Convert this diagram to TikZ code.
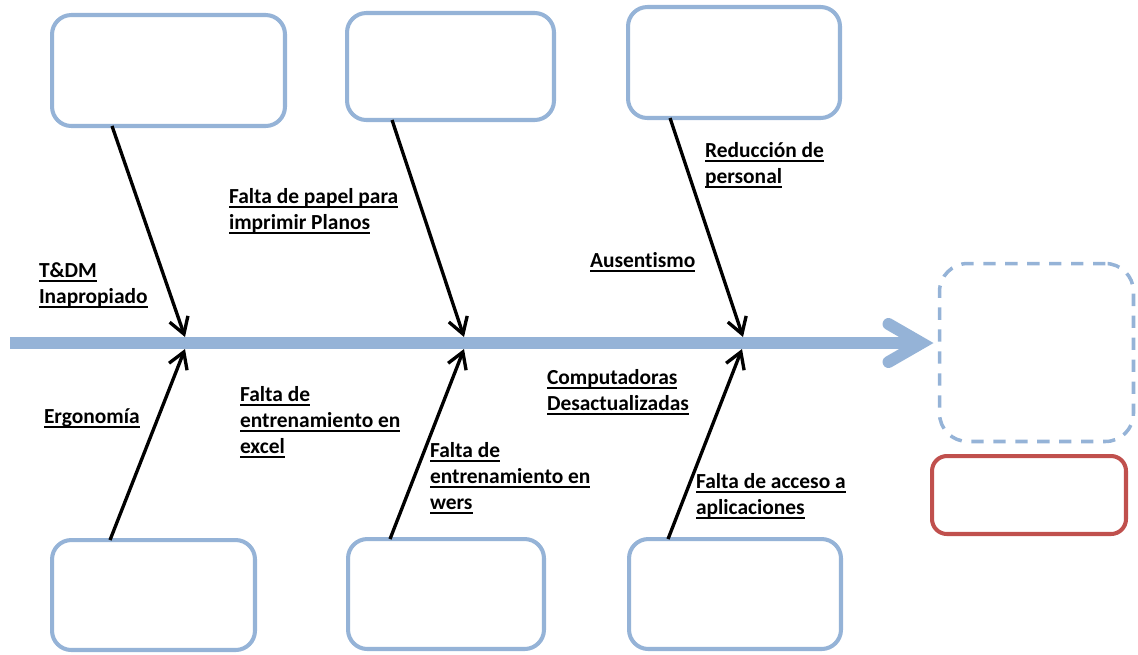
\documentclass[tikz,border=0pt]{standalone}
\usepackage{fontspec}
\setmainfont{Carlito}[Ligatures=NoCommon]
\usetikzlibrary{arrows.meta,calc}

\definecolor{fishblue}{RGB}{149,179,215}
\definecolor{fishred}{RGB}{192,80,77}

% thick underline drawn under a single line of text
\newcommand\ulbar[1]{\setbox0=\hbox{#1}\rlap{\rule[-2.9pt]{\wd0}{1.3pt}}\box0}

\tikzset{
  causebox/.style={draw=fishblue, line width=2.3pt, rounded corners=11pt,
    inner sep=0pt, outer sep=0pt, fill=white},
  effectbox/.style={draw=fishblue, line width=2pt, rounded corners=16pt,
    dash pattern=on 7pt off 5.5pt, inner sep=0pt, outer sep=0pt},
  notebox/.style={draw=fishred, line width=2.3pt, rounded corners=8.5pt,
    inner sep=0pt, outer sep=0pt},
  spine/.style={draw=fishblue, line width=6.8pt},
  chevron/.style={draw=fishblue, line width=6.8pt, line cap=round, line join=miter},
  bone/.style={draw=black, line width=1.9pt,
    -{Straight Barb[length=9pt,width=11pt]}},
  lbl/.style={anchor=base west, inner sep=0pt, outer sep=0pt,
    font=\fontsize{12.2pt}{14.8pt}\selectfont\bfseries},
}

\begin{document}
\begin{tikzpicture}[x=0.02cm, y=-0.02cm]
\useasboundingbox (0,0) rectangle (1138,654);

% cause boxes
\node[causebox, minimum width=4.66cm, minimum height=2.22cm] (b1) at (168.5,70.5) {};
\node[causebox, minimum width=4.14cm, minimum height=2.14cm] (b2) at (450.5,66.5) {};
\node[causebox, minimum width=4.24cm, minimum height=2.22cm] (b3) at (734,62.5) {};
\node[causebox, minimum width=4.06cm, minimum height=2.20cm] (b4) at (153.5,595) {};
\node[causebox, minimum width=3.92cm, minimum height=2.20cm] (b5) at (446,594) {};
\node[causebox, minimum width=4.24cm, minimum height=2.20cm] (b6) at (735,594) {};

% effect and note boxes
\node[effectbox, minimum width=3.88cm, minimum height=3.56cm] (eff) at (1036.5,352.5) {};
\node[notebox, minimum width=3.88cm, minimum height=1.56cm] (note) at (1029,495) {};

% backbone, level with its start point, ending in an open chevron
\coordinate (s0) at (10,343);
\coordinate (tip) at ($(eff.west |- s0)+(-18,0)$);
\draw[spine] (s0) -- (tip);
\draw[chevron] ($(tip)+(-33,-19)$) -- (tip) -- ($(tip)+(-33,19)$);

% junctions on the backbone
\coordinate (j1t) at (185,337);
\coordinate (j2t) at (464,337);
\coordinate (j3t) at (743,337);
\coordinate (j1b) at (185,349);
\coordinate (j2b) at (464,349);
\coordinate (j3b) at (742,349);

% bones
\draw[bone] ([xshift=-1.13cm]b1.south) -- (j1t);
\draw[bone] ([xshift=-1.17cm]b2.south) -- (j2t);
\draw[bone] ([xshift=-1.28cm]b3.south) -- (j3t);
\draw[bone] ([xshift=-0.87cm]b4.north) -- (j1b);
\draw[bone] ([xshift=-1.12cm]b5.north) -- (j2b);
\draw[bone] ([xshift=-1.34cm]b6.north) -- (j3b);

% cause labels
\node[lbl] (l1) at (39,277) {\begin{tabular}[t]{@{}l@{}}\ulbar{T\&DM}\\\ulbar{Inapropiado}\end{tabular}};
\node[lbl] (l2) at (44,423) {\ulbar{Ergonomía}};
\node[lbl] (l3) at (229,203) {\begin{tabular}[t]{@{}l@{}}\ulbar{Falta de papel para}\\\ulbar{imprimir Planos}\end{tabular}};
\node[lbl] (l4) at (240,401) {\begin{tabular}[t]{@{}l@{}}\ulbar{Falta de}\\\ulbar{entrenamiento en}\\\ulbar{excel}\end{tabular}};
\node[lbl] (l5) at (430,457) {\begin{tabular}[t]{@{}l@{}}\ulbar{Falta de}\\\ulbar{entrenamiento en}\\\ulbar{wers}\end{tabular}};
\node[lbl] (l6) at (705,157) {\begin{tabular}[t]{@{}l@{}}\ulbar{Reducción de}\\\ulbar{personal}\end{tabular}};
\node[lbl] (l7) at (590,267) {\ulbar{Ausentismo}};
\node[lbl] (l8) at (547,384) {\begin{tabular}[t]{@{}l@{}}\ulbar{Computadoras}\\\ulbar{Desactualizadas}\end{tabular}};
\node[lbl] (l9) at (696,488) {\begin{tabular}[t]{@{}l@{}}\ulbar{Falta de acceso a}\\\ulbar{aplicaciones}\end{tabular}};
\end{tikzpicture}
\end{document}
